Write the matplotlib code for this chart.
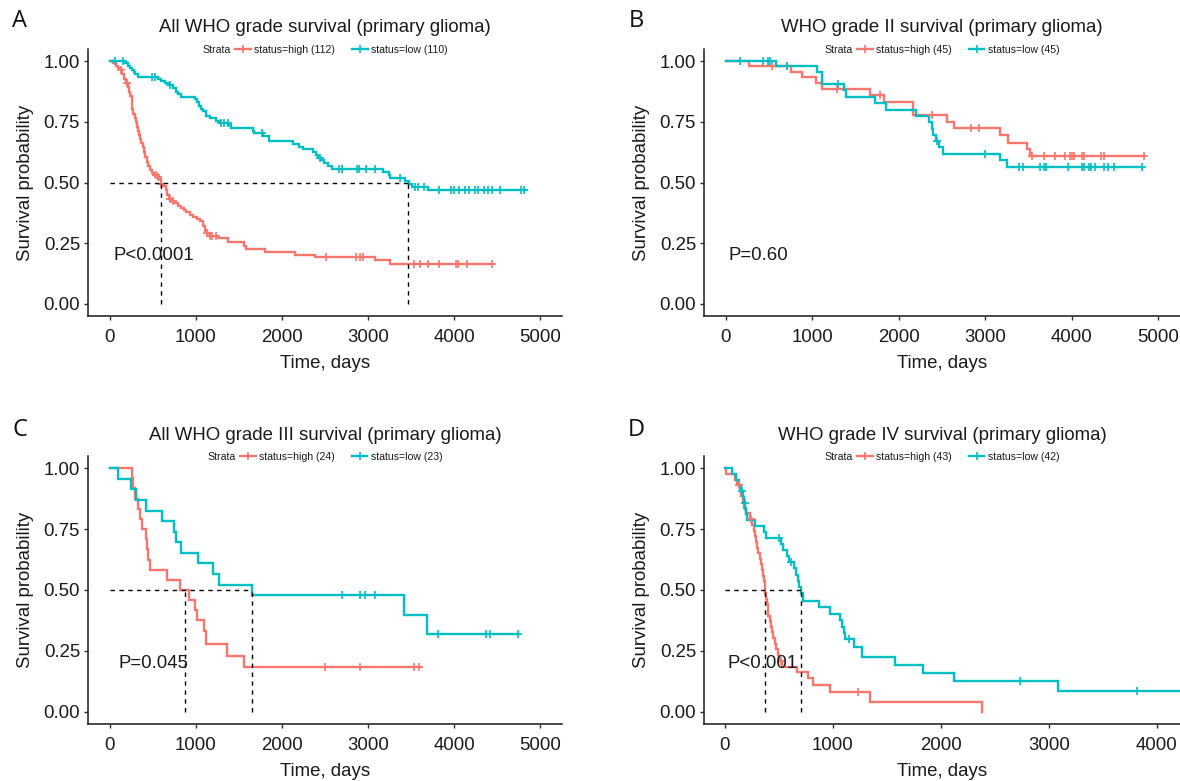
import numpy as np
import matplotlib
matplotlib.use("Agg")
import matplotlib.pyplot as plt
from matplotlib.lines import Line2D

W, H = 1180, 781
RED = "#F8766D"
TEAL = "#00BFC4"
TXT = "#1a1a1a"
FONT = "Liberation Sans"
plt.rcParams["font.family"] = [FONT, "DejaVu Sans"]

# ---------------- Panel A: all WHO grades ----------------
a_high_t = [40, 70, 100, 130, 150, 170, 190, 210, 225, 240, 255, 265, 275, 290, 305, 320, 330, 340,
            355, 370, 385, 400, 415, 430, 445, 465, 490, 520, 545, 575, 600, 625, 650, 670, 690, 720,
            760, 800, 830, 860, 890, 930, 970, 1010, 1050, 1090, 1110, 1130, 1160, 1260, 1370, 1560,
            1580, 1800, 2150, 2380, 3080, 3250]
a_high_s = [0.991, 0.982, 0.973, 0.964, 0.946, 0.928, 0.910, 0.892, 0.874, 0.856, 0.829, 0.802, 0.784,
            0.766, 0.748, 0.730, 0.712, 0.694, 0.681, 0.663, 0.645, 0.627, 0.604, 0.586, 0.568, 0.550,
            0.541, 0.532, 0.522, 0.513, 0.495, 0.486, 0.468, 0.450, 0.432, 0.423, 0.414, 0.405, 0.395,
            0.386, 0.377, 0.368, 0.359, 0.350, 0.340, 0.321, 0.302, 0.290, 0.280, 0.270, 0.255, 0.240,
            0.228, 0.214, 0.201, 0.195, 0.181, 0.163]
a_high_cens = [136, 200, 540, 560, 600, 700, 740, 1130, 1160, 1190, 1230, 2507, 2858, 2902, 2945,
               3538, 3604, 3692, 3823, 4021, 4043, 4153, 4440]
a_high_end = 4450

a_low_t = [180, 210, 240, 260, 280, 300, 330, 560, 600, 640, 690, 740, 770, 790, 830, 990, 1010, 1040,
           1060, 1090, 1120, 1160, 1240, 1280, 1380, 1410, 1660, 1680, 1780, 1850, 2130, 2200, 2240,
           2360, 2390, 2420, 2450, 2490, 2540, 2580, 3170, 3240, 3260, 3430, 3470, 3510, 3690]
a_low_s = [0.991, 0.982, 0.973, 0.964, 0.955, 0.945, 0.936, 0.927, 0.918, 0.909, 0.900, 0.890, 0.872,
           0.863, 0.853, 0.843, 0.833, 0.814, 0.804, 0.794, 0.775, 0.765, 0.755, 0.745, 0.735, 0.725,
           0.714, 0.703, 0.692, 0.670, 0.659, 0.648, 0.637, 0.625, 0.614, 0.602, 0.591, 0.580, 0.568,
           0.557, 0.543, 0.531, 0.519, 0.507, 0.495, 0.483, 0.470]
a_low_cens = [60, 160, 490, 530, 700, 1290, 1330, 1370, 1770, 2440, 2660, 2700, 2870, 2900, 2970,
              3080, 3370, 3540, 3580, 3650, 3820, 3960, 4000, 4060, 4130, 4170, 4240, 4280, 4350,
              4390, 4440, 4530, 4770, 4810]
a_low_end = 4830
a_medians = [597, 3460]

# ---------------- Panel B: WHO grade II ----------------
b_high_t = [272, 755, 887, 1040, 1115, 1668, 1830, 2160, 2555, 2643, 3170, 3258, 3477, 3520]
b_high_s = [0.978, 0.956, 0.933, 0.909, 0.886, 0.860, 0.833, 0.778, 0.750, 0.725, 0.694, 0.664,
            0.636, 0.609]
b_high_cens = [535, 711, 1282, 1787, 2380, 2840, 2928, 3543, 3674, 3806, 3916, 3982, 4004, 4026,
               4113, 4135, 4333, 4377, 4837]
b_high_end = 4837

b_low_t = [580, 1054, 1115, 1370, 1396, 1721, 1853, 2204, 2348, 2380, 2400, 2432, 2467, 2511, 3170,
           3248]
b_low_s = [0.978, 0.956, 0.904, 0.881, 0.852, 0.826, 0.800, 0.775, 0.750, 0.722, 0.697, 0.671, 0.645,
           0.617, 0.591, 0.565]
b_low_cens = [162, 426, 492, 514, 711, 1304, 2440, 2994, 3389, 3433, 3630, 3674, 3696, 3960, 4113,
              4135, 4201, 4223, 4267, 4377, 4421, 4487, 4816]
b_low_end = 4816
b_medians = []

# ---------------- Panel C: WHO grade III ----------------
c_high_t = [259, 270, 290, 334, 356, 380, 421, 435, 450, 470, 663, 816, 926, 992, 1014, 1100, 1124,
            1365, 1563]
c_high_s = [0.958, 0.917, 0.875, 0.833, 0.792, 0.750, 0.708, 0.667, 0.625, 0.583, 0.542, 0.500, 0.458,
            0.417, 0.375, 0.333, 0.278, 0.229, 0.183]
c_high_cens = [2498, 2902, 3529, 3595]
c_high_end = 3610

c_low_t = [101, 246, 303, 421, 610, 750, 773, 830, 1023, 1203, 1269, 1651, 3420, 3683]
c_low_s = [0.957, 0.913, 0.870, 0.826, 0.783, 0.739, 0.696, 0.652, 0.609, 0.565, 0.522, 0.478, 0.398,
           0.319]
c_low_cens = [2695, 2902, 2968, 3077, 3811, 4364, 4416, 4745]
c_low_end = 4745
c_medians = [880, 1651]

# ---------------- Panel D: WHO grade IV ----------------
d_high_t = [10, 90, 115, 135, 150, 165, 180, 195, 235, 255, 265, 275, 285, 295, 310, 322, 333, 345,
            353, 362, 368, 375, 380, 388, 396, 402, 415, 425, 437, 449, 460, 472, 490, 505, 530, 670,
            765, 816, 973, 1340, 2380]
d_high_s = [0.977, 0.953, 0.930, 0.907, 0.884, 0.860, 0.837, 0.814, 0.791, 0.767, 0.744, 0.721, 0.698,
            0.674, 0.651, 0.628, 0.605, 0.581, 0.558, 0.535, 0.512, 0.488, 0.465, 0.442, 0.419, 0.395,
            0.372, 0.349, 0.326, 0.302, 0.279, 0.256, 0.233, 0.209, 0.186, 0.163, 0.137, 0.110, 0.082,
            0.041, 0.000]
d_high_cens = [130, 240, 520, 1228]
d_high_end = 2380

d_low_t = [63, 98, 126, 144, 168, 179, 186, 193, 204, 274, 361, 379, 519, 537, 572, 589, 642, 660,
           677, 690, 702, 723, 870, 975, 1063, 1081, 1098, 1116, 1196, 1267, 1572, 1835, 2123, 3081]
d_low_s = [0.976, 0.952, 0.929, 0.905, 0.881, 0.857, 0.833, 0.810, 0.786, 0.762, 0.738, 0.714, 0.689,
           0.664, 0.639, 0.614, 0.589, 0.563, 0.538, 0.513, 0.487, 0.456, 0.430, 0.403, 0.377, 0.350,
           0.324, 0.297, 0.267, 0.225, 0.192, 0.159, 0.126, 0.084]
d_low_cens = [160, 183, 502, 607, 1150, 2730, 3818]
d_low_end = 4400
d_medians = [375, 705]

panels = [
    dict(letter="A", title="All WHO grade survival (primary glioma)",
         box=(88, 562, 49, 316), xlim=(-250, 5250), xticks=[0, 1000, 2000, 3000, 4000, 5000],
         high=(a_high_t, a_high_s, a_high_cens, a_high_end), low=(a_low_t, a_low_s, a_low_cens, a_low_end),
         labels=["status=high (112)", "status=low (110)"], medians=a_medians,
         pval="P<0.0001", pval_x=50, title_y=27, letter_xy=(20, 21)),
    dict(letter="B", title="WHO grade II survival (primary glioma)",
         box=(704, 1180, 49, 316), xlim=(-250, 5250), xticks=[0, 1000, 2000, 3000, 4000, 5000],
         high=(b_high_t, b_high_s, b_high_cens, b_high_end), low=(b_low_t, b_low_s, b_low_cens, b_low_end),
         labels=["status=high (45)", "status=low (45)"], medians=b_medians,
         pval="P=0.60", pval_x=35, title_y=27, letter_xy=(636, 21)),
    dict(letter="C", title="All WHO grade III survival (primary glioma)",
         box=(88, 562, 456, 724), xlim=(-250, 5250), xticks=[0, 1000, 2000, 3000, 4000, 5000],
         high=(c_high_t, c_high_s, c_high_cens, c_high_end), low=(c_low_t, c_low_s, c_low_cens, c_low_end),
         labels=["status=high (24)", "status=low (23)"], medians=c_medians,
         pval="P=0.045", pval_x=105, title_y=435, letter_xy=(20, 430)),
    dict(letter="D", title="WHO grade IV survival (primary glioma)",
         box=(704, 1180, 456, 724), xlim=(-194, 4213), xticks=[0, 1000, 2000, 3000, 4000],
         high=(d_high_t, d_high_s, d_high_cens, d_high_end), low=(d_low_t, d_low_s, d_low_cens, d_low_end),
         labels=["status=high (43)", "status=low (42)"], medians=d_medians,
         pval="P<0.001", pval_x=28, title_y=435, letter_xy=(636, 430)),
]

fig = plt.figure(figsize=(W / 100, H / 100), dpi=100)
LW = 1.7
FS = 13.4


def km_curve(ax, t, s, cens, end, color):
    tt = np.concatenate([[0.0], np.asarray(t, float), [end]])
    ss = np.concatenate([[1.0], np.asarray(s, float), [s[-1]]])
    ax.step(tt, ss, where="post", color=color, lw=LW, zorder=3, solid_joinstyle="miter")
    ct = np.asarray(cens, float)
    idx = np.searchsorted(tt, ct, side="right") - 1
    ax.plot(ct, ss[idx], ls="none", marker="+", ms=5.2, mew=1.2, color=color, zorder=4)


legend_items = []
for p in panels:
    l, r, t, b = p["box"]
    ax = fig.add_axes([l / W, 1 - b / H, (r - l) / W, (b - t) / H])
    ax.set_xlim(*p["xlim"])
    ax.set_ylim(-0.05, 1.05)
    for side in ("top", "right"):
        ax.spines[side].set_visible(False)
    for side in ("left", "bottom"):
        ax.spines[side].set_linewidth(1.1)
        ax.spines[side].set_color("#1a1a1a")
    ax.set_xticks(p["xticks"])
    ax.set_xticklabels([str(v) for v in p["xticks"]])
    yt = [0, 0.25, 0.5, 0.75, 1.0]
    ax.set_yticks(yt)
    ax.set_yticklabels(["%.2f" % v for v in yt])
    ax.tick_params(axis="both", length=3.2, width=1.0, color="#333333", labelsize=FS, labelcolor=TXT)
    ax.tick_params(axis="x", pad=6.5)
    ax.tick_params(axis="y", pad=2.5)

    km_curve(ax, *p["high"], RED)
    km_curve(ax, *p["low"], TEAL)

    if p["medians"]:
        ax.plot([0, max(p["medians"])], [0.5, 0.5], ls=(0, (3.2, 3.2)), color="black", lw=1.0, zorder=5)
        for m in p["medians"]:
            ax.plot([m, m], [0, 0.5], ls=(0, (3.2, 3.2)), color="black", lw=1.0, zorder=5)

    ax.text(p["pval_x"], 0.2, p["pval"], ha="left", va="center", fontsize=FS, color=TXT, zorder=6)

    ax.set_xlabel("Time, days", fontsize=FS, color=TXT)
    ax.set_ylabel("Survival probability", fontsize=FS, color=TXT)
    xl_y = 364 if t < 100 else 771
    ax.xaxis.set_label_coords(0.5, -(xl_y - b) / (b - t))
    ax.xaxis.label.set_va("center")
    ax.yaxis.set_label_coords((26 - 88) / (r - l) if l < 100 else (641 - 704) / (r - l), 0.5)
    ax.yaxis.label.set_va("center")

    cx = (l + r) / 2
    fig.text(cx / W, 1 - p["title_y"] / H, p["title"], ha="center", va="center", fontsize=FS, color=TXT)
    fig.text(p["letter_xy"][0] / W, 1 - p["letter_xy"][1] / H, p["letter"], ha="center", va="center",
             fontsize=17, color="#111111", family=["Open Sans", "DejaVu Sans"])

    handles = [Line2D([], [], color=c, lw=LW, marker="+", ms=5.5, mew=1.2) for c in (RED, TEAL)]
    leg_y = t + 1
    leg = fig.legend(handles, p["labels"], loc="center", bbox_to_anchor=(cx / W, 1 - leg_y / H), ncol=2,
                     frameon=False, fontsize=7.6, handlelength=1.5, handletextpad=0.3,
                     columnspacing=1.6, borderpad=0, borderaxespad=0, labelcolor=TXT)
    strata = fig.text(0, 1 - leg_y / H, "Strata", ha="left", va="center", fontsize=7.6, color=TXT)
    legend_items.append((leg, strata, cx, leg_y))

fig.canvas.draw()
renderer = fig.canvas.get_renderer()
for leg, strata, cx, leg_y in legend_items:
    lw_px = leg.get_window_extent(renderer).width
    sw_px = strata.get_window_extent(renderer).width
    gap = 4
    total = sw_px + gap + lw_px
    x0 = cx - total / 2
    strata.set_x(x0 / W)
    leg.set_bbox_to_anchor(((x0 + sw_px + gap + lw_px / 2) / W, 1 - leg_y / H), transform=fig.transFigure)

fig.savefig("out.png", dpi=100)
